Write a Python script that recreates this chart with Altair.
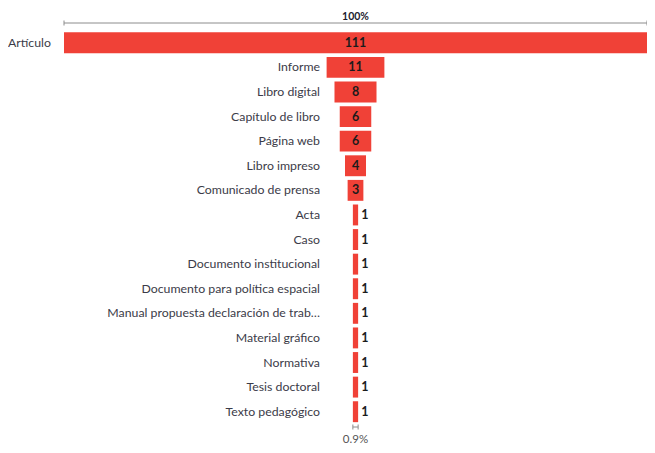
import altair as alt
import pandas as pd

categories = [
    "Artículo", "Informe", "Libro digital", "Capítulo de libro", "Página web",
    "Libro impreso", "Comunicado de prensa", "Acta", "Caso",
    "Documento institucional", "Documento para política espacial",
    "Manual propuesta declaración de trab…", "Material gráfico", "Normativa",
    "Tesis doctoral", "Texto pedagógico",
]
counts = [111, 11, 8, 6, 6, 4, 3, 1, 1, 1, 1, 1, 1, 1, 1, 1]

RED = "#f04137"
FONT = "Lato"
GREY = "#8c8c8c"

maxn = max(counts)
minn = min(counts)

df = pd.DataFrame({"cat": categories, "n": counts})
df["lo"] = -df["n"] / 2
df["hi"] = df["n"] / 2
df["mid"] = 0.0


def pct_text(v):
    s = "%.1f" % (100.0 * v / maxn)
    s = s.rstrip("0").rstrip(".")
    return s + "%"


def bracket_frame(v):
    f = pd.DataFrame({"n": [v]})
    f["lo"] = -f["n"] / 2
    f["hi"] = f["n"] / 2
    f["mid"] = 0.0
    f["txt"] = [pct_text(v)]
    return f


top_df = bracket_frame(maxn)
bot_df = bracket_frame(minn)

x_scale = alt.Scale(domain=[-maxn / 2, maxn / 2], range=[56, 639])
y_scale = alt.Scale(domain=categories, range=[22.5, 416],
                    paddingInner=0.15, paddingOuter=0.075)

base = alt.Chart(df)
Y = alt.Y("cat:N", scale=y_scale, axis=None, sort=categories)

bars = base.mark_bar(color=RED).encode(
    x=alt.X("lo:Q", scale=x_scale, axis=None),
    x2="hi:Q",
    y=Y,
)

labels = base.transform_filter(f"datum.n < {maxn}").mark_text(
    align="right", baseline="middle", font=FONT, fontSize=12.3, color="#3b3b48"
).encode(x=alt.value(312), y=Y, text="cat:N")

first_label = base.transform_filter(f"datum.n == {maxn}").mark_text(
    align="left", baseline="middle", font=FONT, fontSize=12.3, color="#3b3b48"
).encode(x=alt.value(0), y=Y, text="cat:N")

val_in = base.transform_filter("datum.n >= 2").mark_text(
    align="center", baseline="middle", font=FONT, fontSize=12.5,
    fontWeight="bold", color="#1b1b1b"
).encode(x=alt.X("mid:Q", scale=x_scale, axis=None), y=Y, text="n:Q")

val_out = base.transform_filter("datum.n < 2").mark_text(
    align="left", baseline="middle", font=FONT, fontSize=12.5,
    fontWeight="bold", color="#1b1b1b", dx=3
).encode(x=alt.X("hi:Q", scale=x_scale, axis=None), y=Y, text="n:Q")


def bracket(data, yline, ytext, text_kw):
    c = alt.Chart(data)
    line = c.mark_rule(color=GREY, strokeWidth=1).encode(
        x=alt.X("lo:Q", scale=x_scale, axis=None), x2="hi:Q",
        y=alt.value(yline))
    t1 = c.mark_rule(color=GREY, strokeWidth=1).encode(
        x=alt.X("lo:Q", scale=x_scale, axis=None),
        y=alt.value(yline - 2.5), y2=alt.value(yline + 2.5))
    t2 = c.mark_rule(color=GREY, strokeWidth=1).encode(
        x=alt.X("hi:Q", scale=x_scale, axis=None),
        y=alt.value(yline - 2.5), y2=alt.value(yline + 2.5))
    txt = c.mark_text(font=FONT, **text_kw).encode(
        x=alt.X("mid:Q", scale=x_scale, axis=None),
        y=alt.value(ytext), text="txt:N")
    return [line, t1, t2, txt]


top_layers = bracket(top_df, 15, 11.5, dict(align="center", baseline="alphabetic",
                                             fontSize=10.5, fontWeight="bold",
                                             color="#1b1b2e"))
bot_layers = bracket(bot_df, 419, 437, dict(align="center", baseline="bottom",
                                             fontSize=11.5, color="#555555"))

chart = alt.layer(
    bars, labels, first_label, val_in, val_out, *top_layers, *bot_layers
).properties(
    width=639, height=437, padding=0, autosize="none"
).configure_view(stroke=None)

chart.save("out.html", embed_options={"renderer": "svg", "actions": False})
